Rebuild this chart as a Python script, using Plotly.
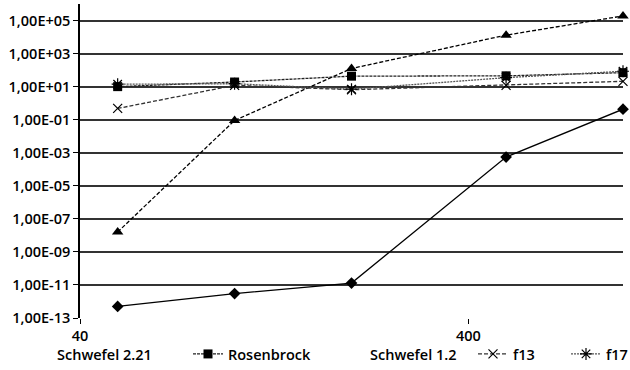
import plotly.graph_objects as go

# Data
dims = [50, 100, 200, 500, 1000]
schwefel_221 = [5e-13, 3e-12, 1.3e-11, 5.5e-4, 0.43]
rosenbrock = [10, 19, 43, 45, 70]
schwefel_12 = [1.6e-8, 0.09, 125, 1.3e4, 1.9e5]
f13 = [0.48, 12, 6.5, 12, 21]
f17 = [14, 15, 7, 35, 85]

series_names = ["Schwefel 2.21", "Rosenbrock", "Schwefel 1.2", "f13", "f17"]
y_tick_exps = list(range(-13, 6, 2))
y_tick_text = ["1,00E" + ("+" if e >= 0 else "-") + f"{abs(e):02d}" for e in y_tick_exps]
x_tick_vals = [40, 400]
x_tick_text = ["40", "400"]

FONT = "Open Sans"
FS = 14.5
FW = 600

series = [
    (schwefel_221, dict(color="black", width=1.3, dash="solid"),
     dict(symbol="diamond", size=9, color="black"), False),
    (rosenbrock, dict(color="#222", width=1.3, dash="3px,1px"),
     dict(symbol="square", size=9, color="black"), True),
    (schwefel_12, dict(color="black", width=1.3, dash="4px,2px"),
     dict(symbol="triangle-up", size=10, color="black"), False),
    (f13, dict(color="#333", width=1.3, dash="4px,2px"),
     dict(symbol="x-thin", size=9, color="black", line=dict(width=1.2, color="black")), True),
    (f17, dict(color="#555", width=1.3, dash="2px,1px"),
     dict(symbol="asterisk", size=10, color="black", line=dict(width=1.2, color="black")), True),
]

# legend text start positions (pixels) as in the reference
legend_text_px = [57, 228, 370, 513, 606]

fig = go.Figure()
layout_legends = {}
for i, (name, (ys, line, marker, legend_marker)) in enumerate(zip(series_names, series)):
    lg = "legend" if i == 0 else f"legend{i + 1}"
    fig.add_trace(go.Scatter(
        x=dims, y=ys, mode="lines+markers", name=name,
        line=line, marker=marker, cliponaxis=False,
        showlegend=legend_marker, legend=lg,
    ))
    if not legend_marker:
        fig.add_trace(go.Scatter(
            x=[None], y=[None], mode="markers", name=name,
            marker=dict(size=1, color="rgba(0,0,0,0)"),
            showlegend=True, legend=lg,
        ))
    layout_legends[lg] = dict(
        orientation="h", xref="container", yref="container",
        x=(legend_text_px[i] - 40) / 630, xanchor="left",
        y=1 - 338 / 370, yanchor="top",
        font=dict(family=FONT, size=FS, color="black", weight=FW),
        itemwidth=30, bgcolor="rgba(0,0,0,0)",
    )

fig.update_layout(
    width=630, height=370,
    margin=dict(l=80, r=7, t=4, b=52, autoexpand=False),
    paper_bgcolor="white", plot_bgcolor="white",
    font=dict(family=FONT, size=FS, color="black", weight=FW),
    showlegend=True,
    **layout_legends,
)
fig.update_xaxes(
    type="log", range=[1.602, 3.0],
    tickvals=x_tick_vals, ticktext=x_tick_text,
    ticks="outside", ticklen=5, tickcolor="black",
    ticklabelstandoff=0,
    showgrid=False, zeroline=False,
    showline=False,
)
fig.update_yaxes(
    type="log", range=[-13, 6],
    tickvals=[10.0 ** e for e in y_tick_exps], ticktext=y_tick_text,
    ticks="outside", ticklen=5, tickcolor="black",
    showgrid=True, gridcolor="#333", gridwidth=1.5,
    showline=True, linecolor="black", linewidth=1.5,
    zeroline=False,
)
fig.write_html("out.html")
